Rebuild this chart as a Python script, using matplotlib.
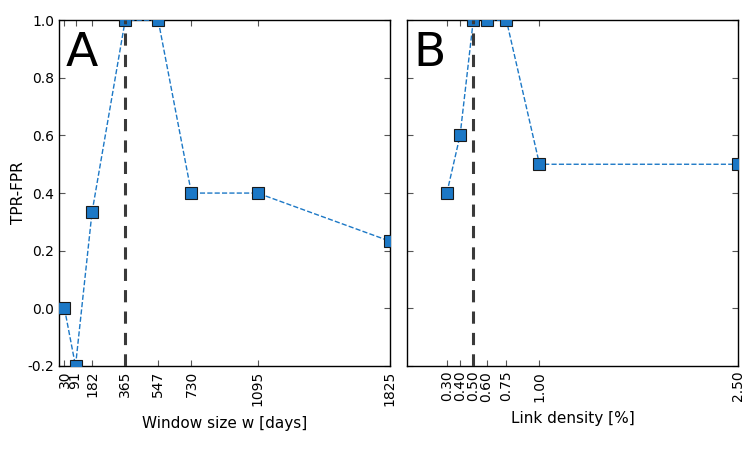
import matplotlib
matplotlib.use('Agg')
import matplotlib.pyplot as plt

# Panel A: tamaño de ventana
ventana_dias = [30, 91, 182, 365, 547, 730, 1095, 1825]
tpr_fpr_a = [0.0, -0.2, 0.333, 1.0, 1.0, 0.4, 0.4, 0.233]
ventana_optima = 365

# Panel B: densidad de enlaces
densidad = [0.30, 0.40, 0.50, 0.60, 0.75, 1.00, 2.50]
densidad_etiquetas = ['0.30', '0.40', '0.50', '0.60', '0.75', '1.00', '2.50']
tpr_fpr_b = [0.4, 0.6, 1.0, 1.0, 1.0, 0.5, 0.5]
densidad_optima = 0.50

AZUL = '#1c78c6'

plt.rcParams['font.family'] = 'DejaVu Sans'
plt.rcParams['font.size'] = 10
plt.rcParams['axes.unicode_minus'] = False

fig = plt.figure(figsize=(7.47, 4.49), dpi=100)
ax_a = fig.add_axes([0.079, 0.185, 0.443, 0.77])
ax_b = fig.add_axes([0.545, 0.185, 0.443, 0.77])


def estilo(ax):
    ax.tick_params(direction='in', top=True, right=True, length=4, labelsize=10,
                   color='#555555')
    for s in ax.spines.values():
        s.set_linewidth(1.0)
    ax.set_ylim(-0.2, 1.0)


ax_a.plot(ventana_dias, tpr_fpr_a, linestyle='--', color=AZUL, linewidth=1.0,
          marker='s', markersize=8.5, markerfacecolor=AZUL, markeredgecolor='#1a1a1a',
          markeredgewidth=0.8, zorder=3)
ax_a.axvline(ventana_optima, color='#3a3a3a', linestyle='--', linewidth=2.2, dashes=(4, 3), zorder=4)
ax_a.set_xlim(0, 1825)
ax_a.set_xticks(ventana_dias)
ax_a.set_xticklabels([str(v) for v in ventana_dias], rotation=90)
ax_a.set_xlabel('Window size w [days]', fontsize=11, labelpad=7)
ax_a.set_ylabel('TPR-FPR', fontsize=11, labelpad=1)
ax_a.set_yticks([-0.2, 0.0, 0.2, 0.4, 0.6, 0.8, 1.0])
estilo(ax_a)
ax_a.text(0.02, 0.97, 'A', transform=ax_a.transAxes, fontsize=34, va='top', ha='left')

ax_b.plot(densidad, tpr_fpr_b, linestyle='--', color=AZUL, linewidth=1.0,
          marker='s', markersize=8.5, markerfacecolor=AZUL, markeredgecolor='#1a1a1a',
          markeredgewidth=0.8, zorder=3)
ax_b.axvline(densidad_optima, color='#3a3a3a', linestyle='--', linewidth=2.2, dashes=(4, 3), zorder=4)
ax_b.set_xlim(0, 2.5)
ax_b.set_xticks(densidad)
ax_b.set_xticklabels(densidad_etiquetas, rotation=90)
ax_b.set_xlabel('Link density [%]', fontsize=11, labelpad=7)
ax_b.set_yticks([-0.2, 0.0, 0.2, 0.4, 0.6, 0.8, 1.0])
ax_b.set_yticklabels([])
estilo(ax_b)
ax_b.text(0.02, 0.97, 'B', transform=ax_b.transAxes, fontsize=34, va='top', ha='left')

fig.savefig('out.png', dpi=100)
